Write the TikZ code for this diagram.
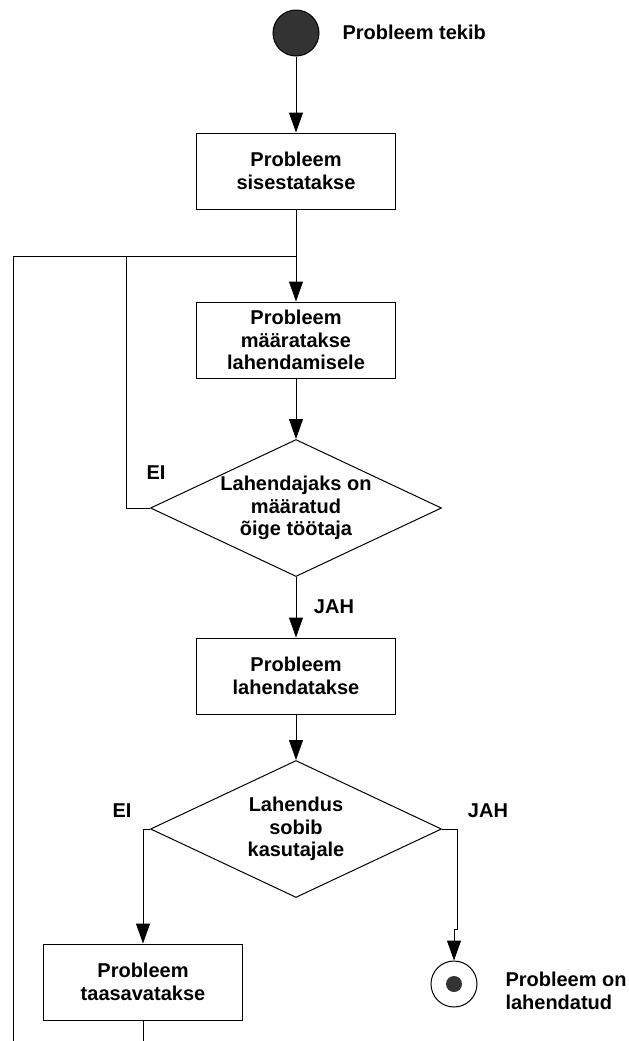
\documentclass[tikz,border=0pt]{standalone}
\usepackage{fontspec}
\setmainfont{Liberation Sans}
\usetikzlibrary{arrows.meta,shapes.geometric}

\begin{document}
\begin{tikzpicture}[x=0.5pt,y=-0.5pt,line width=0.5pt,
	font=\fontsize{10}{11.2}\selectfont\bfseries,
	box/.style={draw,rectangle,minimum width=99.5pt,minimum height=38pt,inner sep=0pt,align=center},
	choice/.style={draw,diamond,aspect=2.1,minimum width=145.5pt,minimum height=68.5pt,inner sep=0pt,align=center},
	flow/.style={-{Triangle[length=10pt,width=7pt]}},
	lbl/.style={inner sep=0pt}]
	\useasboundingbox (0,0) rectangle (628,1041);
	% nodes
	\node[circle,draw,fill=black!80,minimum size=23pt,inner sep=0pt] (start) at (296,33) {};
	\node[lbl,anchor=west] (starttxt) at (342,32) {Probleem tekib};
	\node[box] (enter) at (296,171) {Probleem\\sisestatakse};
	\node[box] (assign) at (296,340) {Probleem\\määratakse\\lahendamisele};
	\node[choice] (check) at (296,508) {Lahendajaks on\\määratud\\õige töötaja};
	\node[box] (solve) at (296,676) {Probleem\\lahendatakse};
	\node[choice] (accept) at (296,829) {Lahendus\\sobib\\kasutajale};
	\node[box] (reopen) at (143,982) {Probleem\\taasavatakse};
	\node[circle,draw,minimum size=23pt,inner sep=0pt] (stop) at (454,984) {};
	\node[circle,fill=black!80,minimum size=8pt,inner sep=0pt] (stopdot) at (stop) {};
	\node[lbl,anchor=west,align=left] (stoptxt) at (505,991) {Probleem on\\lahendatud};
	\node[lbl] (no1) at (156,473) {EI};
	\node[lbl] (yes1) at (334,607) {JAH};
	\node[lbl] (no2) at (122,811) {EI};
	\node[lbl] (yes2) at (488,811) {JAH};
	\coordinate (join) at (296,256);
	\coordinate (loop) at (126,256);
	\coordinate (outer) at (13,1041);
	\coordinate (jog) at (457,929);
	\coordinate (tail) at (143,1041);
	% connectors
	\draw[flow] (start) -- (enter);
	\draw[flow] (enter) -- (assign);
	\draw (outer) |- (join);
	\draw (check.west) -| (loop);
	\draw[flow] (assign) -- (check);
	\draw[flow] (check) -- (solve);
	\draw[flow] (solve) -- (accept);
	\draw[flow] (accept.west) -| (reopen.north);
	\draw[flow] (accept.east) -| (jog) -- (jog -| stop) -- (stop.north);
	\draw (reopen) -- (tail);
\end{tikzpicture}
\end{document}
